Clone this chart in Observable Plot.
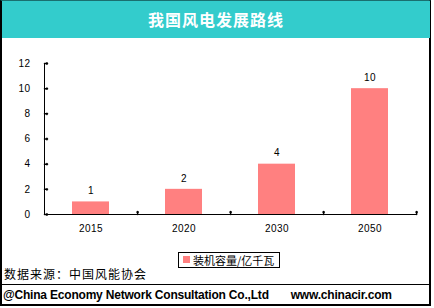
<!DOCTYPE html>
<html><head><meta charset="utf-8">
<script src="https://cdn.jsdelivr.net/npm/d3@7"></script>
<script src="https://cdn.jsdelivr.net/npm/@observablehq/plot@0.6"></script>
<style>
html,body{margin:0;padding:0;background:#fff;}
#wrap{position:relative;width:434px;height:308px;overflow:hidden;font-family:"Liberation Sans",Arial,sans-serif;}
#frame{position:absolute;left:0;top:0;width:431px;height:306px;box-sizing:border-box;border:2px solid #000;border-top:1px solid #1a6f6f;}
#title{position:absolute;left:2px;top:1px;width:428px;height:37px;background:#33CCCC;color:#fff;font-family:"Noto Sans CJK SC",sans-serif;font-weight:bold;font-size:16px;letter-spacing:1px;text-align:center;line-height:37px;}
#chart{position:absolute;left:0;top:38px;}
#legend{position:absolute;left:178px;top:252px;width:102px;height:16px;box-sizing:border-box;border:1px solid #000;font-family:"Noto Sans CJK SC",sans-serif;font-size:11px;line-height:14px;}
#legend .sw{position:absolute;left:4px;top:3px;width:7px;height:7px;}
#legend .lt{position:absolute;left:14px;top:0px;white-space:nowrap;}
#source{position:absolute;left:4px;top:266px;font-family:"Noto Sans CJK SC",sans-serif;font-size:12px;letter-spacing:1px;line-height:16px;}
#hline{position:absolute;left:0;top:284px;width:431px;height:1px;background:#000;}
#footer{position:absolute;left:3px;top:287px;font-weight:bold;font-size:12px;line-height:16px;white-space:pre;letter-spacing:-0.2px;}
</style></head>
<body><div id="wrap">
<div id="frame"></div>
<div id="title"></div>
<div id="chart"></div>
<div id="legend"><div class="sw"></div><div class="lt"></div></div>
<div id="source"></div>
<div id="hline"></div>
<div id="footer"></div>
</div>
<script>
const title = "我国风电发展路线";
const years = ["2015", "2020", "2030", "2050"];
const capacity = [1, 2, 4, 10];
const yTicks = [0, 2, 4, 6, 8, 10, 12];
const seriesName = "装机容量/亿千瓦";
const source = "数据来源：中国风能协会";
const footer = "@China Economy Network Consultation Co.,Ltd       www.chinacir.com";
const barColor = "#FF8080";

const data = years.map((y, i) => ({year: y, value: capacity[i]}));

document.getElementById("title").textContent = title;
document.querySelector("#legend .sw").style.background = barColor;
document.querySelector("#legend .lt").textContent = seriesName;
document.getElementById("source").textContent = source;
document.getElementById("footer").textContent = footer;

const W = 432, H = 205, ml = 44, mr = 15;
const step = (W - ml - mr) / years.length;

const chart = Plot.plot({
  width: W, height: H,
  marginLeft: ml, marginRight: mr, marginTop: 25, marginBottom: 29,
  style: {fontFamily: "Liberation Sans, Arial, sans-serif", fontSize: "10px", color: "#000", background: "transparent", letterSpacing: "0.4px"},
  x: {domain: years, paddingInner: 0.6, paddingOuter: 0.3, label: null},
  y: {domain: [0, 12], label: null},
  marks: [
    Plot.barY(data, {x: "year", y: "value", fill: barColor}),
    Plot.text(data, {x: "year", y: "value", text: d => String(d.value), dy: -11, fill: "#000", fontSize: 10}),
    Plot.axisY({ticks: yTicks, tickSize: 0, tickPadding: 14, label: null}),
    Plot.axisX({tickSize: 0, tickPadding: 10, label: null}),
    Plot.vector(yTicks, {y: d => d, frameAnchor: "left", rotate: 90, length: 3, anchor: "start", stroke: "#000"}),
    Plot.vector(years, {x: d => d, y: 0, rotate: 0, length: 3, anchor: "start", dx: step / 2, stroke: "#000"}),
    Plot.ruleY([0], {stroke: "#000"}),
    Plot.frame({anchor: "left", stroke: "#000"})
  ]
});
document.getElementById("chart").appendChild(chart);
</script>
</body></html>
